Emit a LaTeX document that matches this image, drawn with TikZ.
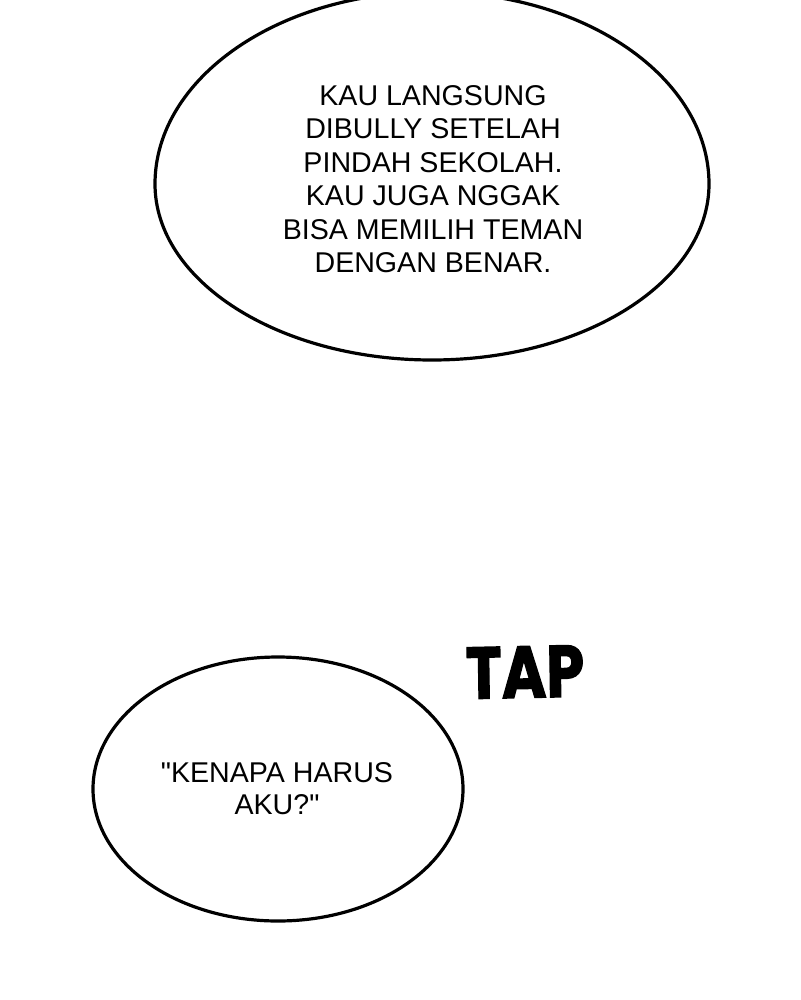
\documentclass[tikz,border=0pt]{standalone}
\usepackage{fontspec}
\setmainfont{Liberation Sans}[Ligatures=TeXOff]
\newfontfamily\tapfont{Poppins}[BoldFeatures={FakeBold=2}]
\usetikzlibrary{positioning}

\begin{document}
\begin{tikzpicture}[
  x=1pt, y=-1pt, line width=3.2pt, line cap=round,
  bubble/.style={draw=black, fill=white},
  speech/.style={align=center, inner sep=0pt, font=\fontsize{28.6}{33.5}\selectfont},
  tap/.style={inner sep=0pt, font=\tapfont\bfseries\fontsize{73}{73}\selectfont, xscale=0.83}
]
\useasboundingbox[fill=white] (0,0) rectangle (800,1000);

% upper bubble, a little fuller on top
\coordinate (b1-e) at (709,184);
\draw[bubble] (b1-e) arc[start angle=0, end angle=180, x radius=277, y radius=176]
  arc[start angle=180, end angle=360, x radius=277, y radius=192] -- cycle;
\node[speech] (t1) at (433,179)
  {KAU LANGSUNG\\DIBULLY SETELAH\\PINDAH SEKOLAH.\\KAU JUGA NGGAK\\BISA MEMILIH TEMAN\\DENGAN BENAR.};

% lower bubble
\coordinate (b2-c) at (278,789);
\draw[bubble] (b2-c) ellipse[x radius=185, y radius=132];
\node[speech, font=\fontsize{28.6}{32}\selectfont] (t2) at (277,789)
  {"KENAPA HARUS\\AKU?"};

% TAP
\node[tap, rotate=1] (tap) at (525,672) {TAP};
\end{tikzpicture}
\end{document}
